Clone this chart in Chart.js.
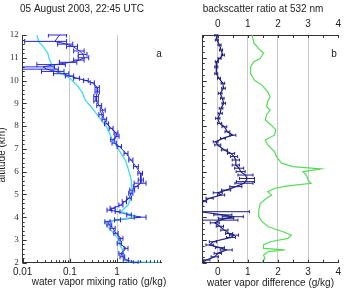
<!DOCTYPE html>
<html><head><meta charset="utf-8">
<script src="https://cdn.jsdelivr.net/npm/chart.js@4.4.0/dist/chart.umd.min.js"></script>
<style>
html,body{margin:0;padding:0;background:#fff;}
#wrap{position:relative;width:346px;height:292px;overflow:hidden;}
canvas{position:absolute;left:0;top:0;}
</style></head><body>
<div id="wrap"><canvas id="c1" width="346" height="292"></canvas><canvas id="c2" width="346" height="292"></canvas></div>
<script>
// ---------- data (panel a: water vapor mixing ratio, g/kg vs altitude km) ----------
const lidarAlt = [12.0, 11.72, 11.6, 11.5, 11.3, 11.15, 11.0, 10.9, 10.8, 10.7,
  10.6, 10.5, 10.4, 10.3, 10.2, 10.1, 10.0, 9.9, 9.7, 9.5,
  9.3, 9.1, 8.9, 8.7, 8.5, 8.3, 8.1, 7.9, 7.7, 7.55,
  7.4, 7.25, 7.1, 6.8, 6.51, 6.22, 5.93, 5.63, 5.49, 5.34,
  5.19, 5.05, 4.83, 4.68, 4.53, 4.39, 4.31, 4.24, 4.1, 4.0,
  3.88, 3.8, 3.66, 3.51, 3.29, 3.07, 2.85, 2.63, 2.41, 2.26,
  2.12, 2.0];
const lidarMix = [0.06, 0.048, 0.085, 0.115, 0.16, 0.19, 0.2, 0.16, 0.1, 0.05,
  0.027, 0.032, 0.05, 0.07, 0.1, 0.14, 0.22, 0.3, 0.38, 0.38,
  0.36, 0.36, 0.42, 0.5, 0.46, 0.54, 0.6, 0.75, 0.95, 1.0,
  0.81, 0.87, 1.12, 1.55, 1.96, 2.52, 3.1, 3.2, 3.2, 2.5,
  2.1, 1.96, 1.8, 1.43, 1.21, 0.81, 0.69, 1.03, 1.8, 3.2,
  1.03, 0.63, 0.69, 0.81, 0.95, 1.21, 1.12, 1.55, 1.21, 1.3,
  1.55, 2.5];
const lidarMixErr = [0.025, 0.037, 0.03, 0.03, 0.04, 0.04, 0.05, 0.04, 0.04, 0.03,
  0.02, 0.025, 0.025, 0.025, 0.02, 0.02, 0.025, 0.03, 0.04, 0.04,
  0.04, 0.04, 0.05, 0.06, 0.05, 0.06, 0.06, 0.07, 0.09, 0.1,
  0.08, 0.09, 0.12, 0.15, 0.2, 0.3, 0.35, 0.4, 0.9, 0.3,
  0.25, 0.2, 0.2, 0.15, 0.12, 0.1, 0.08, 0.12, 0.2, 0.9,
  0.15, 0.08, 0.08, 0.1, 0.1, 0.12, 0.12, 0.15, 0.12, 0.15,
  0.2, 0.3];
const sondeAlt = [12.0, 11.7, 11.5, 11.2, 10.9, 10.6, 10.3, 10.1, 9.8, 9.5,
  9.15, 8.85, 8.56, 8.27, 7.97, 7.68, 7.39, 7.1, 6.8, 6.5,
  6.07, 5.63, 5.34, 5.19, 4.9, 4.53, 4.24, 4.1, 4.0, 3.8,
  3.58, 3.29, 3.0, 2.84, 2.56, 2.19, 2.05, 2.0];
const sondeMix = [0.02, 0.022, 0.027, 0.034, 0.037, 0.044, 0.067, 0.1, 0.14, 0.18,
  0.21, 0.28, 0.36, 0.46, 0.6, 0.69, 0.8, 1.0, 1.2, 1.5,
  1.75, 2.0, 2.0, 2.1, 2.0, 1.7, 1.21, 2.0, 2.4, 0.54,
  0.63, 0.85, 1.12, 1.1, 1.3, 1.43, 1.6, 8.0];

// ---------- data (panel b) ----------
const bsrAlt = [12, 11.65, 11.4, 11.2, 10.97, 10.83, 10.6, 10.3, 10.0, 9.8,
  9.5, 9.3, 9.08, 8.86, 8.7, 8.5, 8.27, 8.05, 7.83, 7.6,
  7.39, 7.17, 6.88, 6.66, 6.37, 6.22, 6.15, 6.12, 6.0, 5.85,
  5.63, 5.49, 5.37, 5.27, 5.12, 4.97, 4.83, 4.6, 4.3, 4.02,
  3.8, 3.58, 3.36, 3.21, 3.07, 2.92, 2.78, 2.63, 2.56, 2.49,
  2.34, 2.19, 2.0];
const bsr = [1.14, 1.2, 1.36, 1.52, 1.41, 1.2, 1.09, 1.09, 1.23, 1.47,
  1.66, 1.74, 1.66, 1.62, 1.74, 1.62, 1.58, 1.77, 1.93, 1.88,
  1.58, 1.66, 1.88, 1.95, 2.12, 2.5, 3.1, 3.42, 2.83, 2.94,
  3.0, 3.1, 2.33, 1.9, 1.66, 1.79, 1.62, 1.41, 1.36, 1.36,
  1.47, 1.68, 2.17, 2.44, 2.33, 1.74, 1.52, 1.52, 2.23, 1.68,
  1.52, 1.57, 1.47];
const diffAlt = [12, 11.78, 11.56, 11.34, 11.12, 10.97, 10.83, 10.6, 10.3, 10.1,
  9.88, 9.66, 9.44, 9.22, 9.0, 8.78, 8.56, 8.34, 8.12, 7.97,
  7.75, 7.6, 7.46, 7.31, 7.17, 6.95, 6.8, 6.66, 6.51, 6.29,
  6.15, 6.0, 5.85, 5.7, 5.56, 5.49, 5.34, 5.19, 5.07, 4.97,
  4.83, 4.68, 4.55, 4.24, 4.1, 4.02, 3.95, 3.87, 3.75, 3.6,
  3.43, 3.28, 3.21, 3.11, 2.92, 2.78, 2.66, 2.56, 2.41, 2.26,
  2.12, 2.0];
const wvDiff = [-0.05, -0.03, 0.06, 0.11, 0.17, 0.06, -0.03, -0.05, -0.05, 0.04,
  0.17, 0.19, 0.08, 0.15, 0.2, 0.11, 0.08, 0.0, 0.06, 0.22,
  0.32, 0.5, 0.17, -0.07, 0.0, 0.22, 0.44, 0.54, 0.6, 0.6,
  0.71, 0.76, 0.92, 0.97, 0.92, 0.87, 0.6, 0.28, 0.0, 0.11,
  -0.27, -0.49, -0.6, -0.6, 0.17, 0.5, 0.28, 0.07, -0.1, 0.07,
  0.22, 0.38, 0.54, 0.44, -0.16, -0.27, 0.07, 0.28, 0.0, -0.1,
  -0.38, -0.55];
const wvDiffErr = [0.05, 0.05, 0.05, 0.05, 0.05, 0.05, 0.05, 0.05, 0.05, 0.05,
  0.06, 0.06, 0.06, 0.06, 0.06, 0.06, 0.07, 0.07, 0.07, 0.08,
  0.08, 0.1, 0.08, 0.08, 0.1, 0.1, 0.12, 0.12, 0.12, 0.12,
  0.15, 0.15, 0.25, 0.25, 0.3, 0.3, 0.2, 0.15, 0.15, 0.12,
  0.12, 0.12, 0.1, 1.65, 0.3, 0.35, 0.25, 0.6, 0.15, 0.12,
  0.12, 0.12, 0.15, 0.15, 0.12, 0.12, 0.15, 0.2, 0.12, 0.12,
  0.12, 0.12];

// ---------- tick labels ----------
const altTicks = [2, 3, 4, 5, 6, 7, 8, 9, 10, 11, 12];
const mixTicks = [0.01, 0.1, 1];
const diffTicks = [0, 1, 2, 3, 4];

const SANS = "'Liberation Sans', Arial, Helvetica, sans-serif";
const SERIF = "'Liberation Serif', 'Times New Roman', serif";
Chart.defaults.font.family = SANS;
Chart.defaults.font.size = 10;
Chart.defaults.color = '#222';

const AXIS = '#333';
const GRID = '#c8c8c8';
const BLUE = '#2626dc';
const NAVY = '#1e1e86';
const CYAN = '#3fdcec';
const GREEN = '#55dd55';

const pts = (ys, xs) => ys.map((y, i) => ({x: xs[i], y: y}));

// error bars + inward ticks + free texts
const decor = {
  id: 'decor',
  afterDatasetsDraw(chart) {
    const ctx = chart.ctx, a = chart.chartArea;
    ctx.save();
    ctx.beginPath(); ctx.rect(a.left, a.top - 1, a.right - a.left, a.bottom - a.top + 2); ctx.clip();
    chart.data.datasets.forEach((ds) => {
      if (!ds.xErr) return;
      const xs = chart.scales[ds.xAxisID || 'x'], ys = chart.scales.y;
      ctx.strokeStyle = ds.borderColor; ctx.lineWidth = 1;
      ds.data.forEach((p, j) => {
        const e = ds.xErr[j]; if (e == null) return;
        let lo = p.x - e; if (xs.type === 'logarithmic' && lo <= 0) lo = 1e-4;
        const x1 = xs.getPixelForValue(lo), x2 = xs.getPixelForValue(p.x + e), py = ys.getPixelForValue(p.y);
        const c = ds.capH;
        ctx.beginPath();
        ctx.moveTo(x1, py); ctx.lineTo(x2, py);
        ctx.moveTo(x1, py - c); ctx.lineTo(x1, py + c);
        ctx.moveTo(x2, py - c); ctx.lineTo(x2, py + c);
        ctx.stroke();
      });
    });
    ctx.restore();
  },
  afterDraw(chart, args, o) {
    const ctx = chart.ctx, a = chart.chartArea;
    ctx.save();
    ctx.strokeStyle = AXIS; ctx.lineWidth = 1;
    (o.ticks || []).forEach(t => {
      const s = chart.scales[t.axis];
      ctx.beginPath();
      t.values.forEach(v => {
        const p = Math.round(s.getPixelForValue(v)) + 0.5;
        if (t.side === 'left') { ctx.moveTo(a.left, p); ctx.lineTo(a.left + t.len, p); }
        if (t.side === 'bottom') { ctx.moveTo(p, a.bottom); ctx.lineTo(p, a.bottom - t.len); }
        if (t.side === 'top') { ctx.moveTo(p, a.top); ctx.lineTo(p, a.top + t.len); }
      });
      ctx.stroke();
    });
    (o.texts || []).forEach(t => {
      ctx.save();
      ctx.fillStyle = '#222';
      ctx.font = (t.size || 10) + 'px ' + SANS;
      ctx.textAlign = t.align || 'center';
      ctx.textBaseline = t.base || 'middle';
      ctx.translate(t.x, t.y);
      if (t.rot) ctx.rotate(t.rot);
      ctx.fillText(t.text, 0, 0);
      ctx.restore();
    });
    ctx.restore();
  }
};

const range = (a, b, s) => { const r = []; for (let v = a; v <= b + 1e-9; v += s) r.push(+v.toFixed(4)); return r; };
const logMinor = []; [0.01, 0.1, 1].forEach(d => { for (let k = 2; k <= 9; k++) if (k * d <= 8.5) logMinor.push(k * d); });

// ---------- panel a ----------
new Chart(document.getElementById('c1'), {
  type: 'scatter',
  data: {datasets: [
    {data: pts(sondeAlt, sondeMix), showLine: true, borderColor: CYAN, borderWidth: 1.3, pointRadius: 0, tension: 0},
    {data: pts(lidarAlt, lidarMix), showLine: true, borderColor: BLUE, borderWidth: 1, pointRadius: 0, tension: 0, xErr: lidarMixErr, capH: 2.5}
  ]},
  options: {
    responsive: false, animation: false, devicePixelRatio: 1,
    layout: {padding: {left: 3, right: 185, top: 0, bottom: 0}},
    plugins: {
      legend: {display: false}, tooltip: {enabled: false},
      title: {display: true, text: '05 August 2003, 22:45 UTC', color: '#222', font: {size: 10, weight: 'normal'}, padding: {top: 3, bottom: 20}},
      decor: {
        ticks: [
          {axis: 'y', side: 'left', values: range(2, 12, 1), len: 4},
          {axis: 'y', side: 'left', values: range(2, 12, 0.2), len: 2},
          {axis: 'x', side: 'bottom', values: mixTicks, len: 4},
          {axis: 'x', side: 'bottom', values: logMinor, len: 2.5}
        ],
        texts: [
          {text: 'altitude (km)', x: 4.5, y: 155, rot: -Math.PI / 2, base: 'alphabetic'},
          {text: 'water vapor mixing ratio (g/kg)', x: 99, y: 282},
          {text: 'a', x: 159, y: 54}
        ]
      }
    },
    scales: {
      x: {
        type: 'logarithmic', min: 0.01, max: 8.5, position: 'bottom',
        afterBuildTicks: s => { s.ticks = mixTicks.map(v => ({value: v})); },
        afterFit: s => { s.height = 29.3; },
        ticks: {callback: v => String(v), padding: 4, maxRotation: 0, autoSkip: false, color: '#222', font: {size: 10}},
        grid: {drawTicks: false, color: c => (c.tick && c.tick.value === 0.01) ? 'rgba(0,0,0,0)' : GRID, lineWidth: 1},
        border: {display: true, color: AXIS}
      },
      y: {
        type: 'linear', min: 2, max: 12,
        afterBuildTicks: s => { s.ticks = altTicks.map(v => ({value: v})); },
        afterFit: s => { s.width = 19.7; },
        ticks: {padding: 4, color: '#333', font: {family: SERIF, size: 9}},
        grid: {display: false, drawTicks: false},
        border: {display: true, color: AXIS}
      }
    }
  },
  plugins: [decor]
});

// ---------- panel b ----------
new Chart(document.getElementById('c2'), {
  type: 'scatter',
  data: {datasets: [
    {data: pts(bsrAlt, bsr), showLine: true, borderColor: GREEN, borderWidth: 1.2, pointRadius: 0, tension: 0, xAxisID: 'x2'},
    {data: pts(diffAlt, wvDiff), showLine: true, borderColor: NAVY, borderWidth: 1.2, pointRadius: 0, tension: 0, xErr: wvDiffErr, capH: 1.5}
  ]},
  options: {
    responsive: false, animation: false, devicePixelRatio: 1,
    layout: {padding: {left: 0, right: 5, top: 0, bottom: 0}},
    plugins: {
      legend: {display: false}, tooltip: {enabled: false}, title: {display: false},
      decor: {
        ticks: [
          {axis: 'y', side: 'left', values: range(2, 12, 1), len: 4},
          {axis: 'y', side: 'left', values: range(2, 12, 0.25), len: 2},
          {axis: 'x', side: 'bottom', values: range(-0.5, 4, 0.5), len: 3},
          {axis: 'x2', side: 'top', values: range(-0.5, 4, 0.5), len: 3}
        ],
        texts: [{text: 'b', x: 334, y: 54}]
      }
    },
    scales: {
      x: {
        type: 'linear', min: -0.5, max: 4, position: 'bottom',
        afterBuildTicks: s => { s.ticks = diffTicks.map(v => ({value: v})); },
        afterFit: s => { s.height = 29.3; },
        ticks: {padding: 4, maxRotation: 0, autoSkip: false, color: '#222', font: {size: 10}},
        grid: {drawTicks: false, color: c => (c.tick && c.tick.value === 4) ? 'rgba(0,0,0,0)' : GRID, lineWidth: 1},
        border: {display: true, color: AXIS},
        title: {display: true, text: 'water vapor difference (g/kg)', color: '#222', font: {size: 10}, padding: {top: 0, bottom: 3}}
      },
      x2: {
        type: 'linear', min: -0.5, max: 4, position: 'top',
        afterBuildTicks: s => { s.ticks = diffTicks.map(v => ({value: v})); },
        afterFit: s => { s.height = 35; },
        ticks: {padding: 5, maxRotation: 0, autoSkip: false, color: '#222', font: {size: 10}},
        grid: {display: false, drawTicks: false},
        border: {display: true, color: AXIS},
        title: {display: true, text: 'backscatter ratio at 532 nm', align: 'start', color: '#222', font: {size: 10}, padding: {top: 3, bottom: 0}}
      },
      y: {
        type: 'linear', min: 2, max: 12,
        afterFit: s => { s.width = 202.7; },
        ticks: {display: false},
        grid: {display: false, drawTicks: false},
        border: {display: true, color: AXIS}
      }
    }
  },
  plugins: [decor]
});
</script>
</body></html>
